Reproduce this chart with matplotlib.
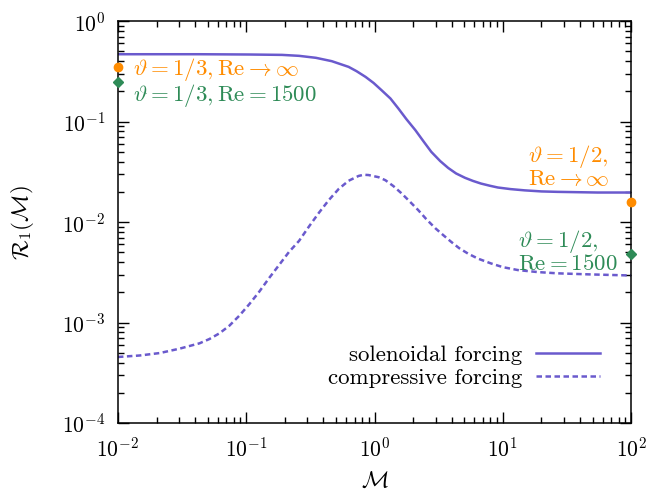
import matplotlib
matplotlib.use("Agg")
import matplotlib.pyplot as plt
from matplotlib.ticker import LogLocator, NullFormatter

plt.rcParams['font.family'] = ['cmr10', 'DejaVu Serif']
plt.rcParams['mathtext.fontset'] = 'cm'
plt.rcParams['axes.formatter.use_mathtext'] = True

# Solenoidal forcing curve
mach_sol = [0.01, 0.0432, 0.1055, 0.190, 0.258, 0.349, 0.464, 0.628, 0.724, 0.851, 0.982,
            1.132, 1.33, 1.535, 1.77, 2.08, 2.40, 2.77, 3.25, 3.75, 4.32, 5.07, 5.85,
            6.75, 7.93, 9.14, 11.5, 14.8, 20.0, 26.7, 54.5, 100]
r_sol = [0.469, 0.469, 0.466, 0.462, 0.452, 0.432, 0.400, 0.351, 0.318, 0.279, 0.243,
         0.206, 0.170, 0.135, 0.106, 0.0823, 0.0640, 0.0500, 0.0405, 0.0346, 0.0305, 0.0276, 0.0257,
         0.0242, 0.0230, 0.0221, 0.0213, 0.0207, 0.0202, 0.0200, 0.0197, 0.0197]

# Compressive forcing curve
mach_comp = [0.01, 0.0148, 0.0212, 0.0303, 0.0432, 0.0516, 0.0618, 0.0738, 0.0883, 0.1055,
             0.126, 0.151, 0.180, 0.215, 0.258, 0.308, 0.368, 0.440, 0.526, 0.628,
             0.751, 0.822, 0.898, 1.074, 1.216, 1.404, 1.618, 1.868, 2.19, 2.53,
             2.97, 3.43, 3.95, 4.56, 5.36, 6.40, 8.07, 10.0, 13.1, 18.7,
             26.7, 45.6, 100]
r_comp = [4.54e-4, 4.70e-4, 4.97e-4, 5.50e-4, 6.21e-4, 6.85e-4, 7.81e-4, 9.29e-4, 1.17e-3, 1.52e-3,
          2.02e-3, 2.78e-3, 3.73e-3, 5.03e-3, 6.50e-3, 9.02e-3, 0.01235, 0.01656, 0.0214, 0.0258,
          0.0288, 0.0296, 0.0294, 0.0280, 0.0261, 0.0228, 0.0194, 0.01618, 0.01316, 0.01071,
          8.71e-3, 7.42e-3, 6.37e-3, 5.51e-3, 4.85e-3, 4.33e-3, 3.88e-3, 3.56e-3, 3.33e-3, 3.18e-3,
          3.09e-3, 3.02e-3, 2.94e-3]

# Reference points
pt_mach = [0.01, 0.01, 100, 100]
pt_r = [0.35, 0.25, 0.016, 0.0048]
pt_kind = ['inf', '1500', 'inf', '1500']

line_color = '#6a5acd'
orange = '#ff8c00'
green = '#2e8b57'

fig = plt.figure(figsize=(6.48, 4.93), dpi=100)
ax = fig.add_axes([0.182, 0.142, 0.792, 0.815])

ax.plot(mach_sol, r_sol, color=line_color, lw=1.8, label='solenoidal forcing',
        solid_joinstyle='round')
ax.plot(mach_comp, r_comp, color=line_color, lw=1.8, dashes=(2.2, 1.4),
        label='compressive forcing')

for m, r, k in zip(pt_mach, pt_r, pt_kind):
    if k == 'inf':
        ax.plot(m, r, 'o', color=orange, ms=6, clip_on=False, zorder=5)
    else:
        ax.plot(m, r, 'D', color=green, ms=5, clip_on=False, zorder=5)

ax.set_xscale('log')
ax.set_yscale('log')
ax.set_xlim(1e-2, 1e2)
ax.set_ylim(1e-4, 1e0)

ax.xaxis.set_major_locator(LogLocator(base=10, numticks=10))
ax.yaxis.set_major_locator(LogLocator(base=10, numticks=10))
ax.xaxis.set_minor_locator(LogLocator(base=10, subs=range(2, 10), numticks=20))
ax.yaxis.set_minor_locator(LogLocator(base=10, subs=range(2, 10), numticks=20))
ax.xaxis.set_minor_formatter(NullFormatter())
ax.yaxis.set_minor_formatter(NullFormatter())

fs = 16.5
ax.tick_params(which='both', direction='in', top=True, right=True, width=1.0,
               labelsize=15.5, colors='black')
ax.tick_params(which='major', length=8)
ax.tick_params(axis='x', which='major', pad=10)
ax.tick_params(axis='y', which='major', pad=9)
ax.tick_params(which='minor', length=4)
for s in ax.spines.values():
    s.set_linewidth(1.1)

ax.set_xlabel(r'$\mathcal{M}$', fontsize=fs, labelpad=7)
ax.set_ylabel(r'$\mathcal{R}_1(\mathcal{M})$', fontsize=fs, labelpad=19)

ax.text(0.01307, 0.292, r'$\vartheta = 1/3, \mathrm{Re} \rightarrow \infty$', color=orange,
        fontsize=fs, ha='left', va='baseline')
ax.text(0.01307, 0.162, r'$\vartheta = 1/3, \mathrm{Re} = 1500$', color=green,
        fontsize=fs, ha='left', va='baseline')
ax.text(15.6, 0.0233, '$\\vartheta = 1/2,$\n$\\mathrm{Re} \\rightarrow \\infty$', color=orange,
        fontsize=fs, ha='left', va='baseline', multialignment='left', linespacing=0.95)
ax.text(13.1, 3.33e-3, '$\\vartheta = 1/2,$\n$\\mathrm{Re} = 1500$', color=green,
        fontsize=fs, ha='left', va='baseline', multialignment='left', linespacing=0.95)

ax.legend(loc='lower right', frameon=False, markerfirst=False, fontsize=fs,
          handlelength=2.8, handletextpad=0.6, labelspacing=0.15,
          bbox_to_anchor=(0.98, 0.035))

fig.savefig('out.png', dpi=100)
